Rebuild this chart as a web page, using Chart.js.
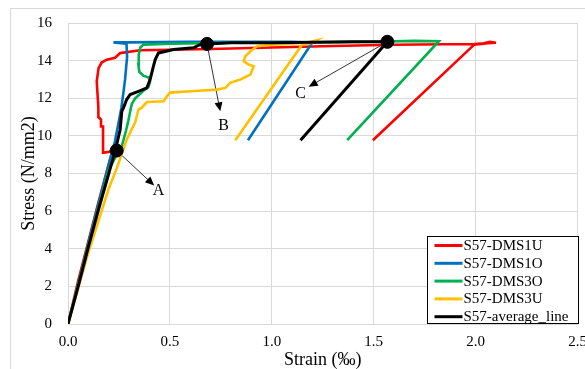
<!DOCTYPE html>
<html>
<head>
<meta charset="utf-8">
<script src="https://cdn.jsdelivr.net/npm/chart.js@4.4.1/dist/chart.umd.min.js"></script>
<style>
  html, body { margin: 0; padding: 0; background: #fff; }
</style>
</head>
<body>
<canvas id="myChart" width="585" height="369"></canvas>
<script>
// nomi e colori delle serie
const seriesNames = ['S57-DMS1U', 'S57-DMS1O', 'S57-DMS3O', 'S57-DMS3U', 'S57-average_line'];
const seriesColors = ['#ff0000', '#0070c0', '#00b050', '#ffc000', '#000000'];

// strain (‰) e stress (N/mm2)
const dms1uStrain = [0, 0.05, 0.10, 0.15, 0.20, 0.218, 0.20, 0.172, 0.172, 0.162, 0.162, 0.149, 0.149, 0.141, 0.150, 0.165, 0.190, 0.231, 0.256, 0.354, 0.50, 0.70, 1.00, 1.30, 1.60, 1.85, 1.993, 2.04, 2.07, 2.10, 2.06, 1.993, 1.496];
const dms1uStress = [0, 2.3, 4.4, 6.5, 8.5, 9.2, 9.15, 9.1, 10.5, 10.5, 10.87, 11.0, 11.5, 12.9, 13.6, 13.9, 14.05, 14.15, 14.4, 14.55, 14.58, 14.62, 14.7, 14.78, 14.84, 14.87, 14.88, 14.92, 15.0, 14.95, 14.93, 14.85, 9.77];

const dms1oStrain = [0, 0.05, 0.10, 0.15, 0.20, 0.23, 0.25, 0.262, 0.272, 0.28, 0.285, 0.29, 0.287, 0.223, 0.30, 0.60, 0.90, 1.10, 1.198, 0.883];
const dms1oStress = [0, 2.1, 4.3, 6.4, 8.5, 9.7, 10.8, 11.5, 12.3, 13.0, 13.6, 14.2, 14.9, 14.97, 14.97, 15.0, 15.0, 15.0, 14.95, 9.77];

const dms3oStrain = [0, 0.05, 0.10, 0.15, 0.20, 0.24, 0.264, 0.285, 0.296, 0.305, 0.313, 0.33, 0.37, 0.395, 0.403, 0.395, 0.37, 0.35, 0.345, 0.347, 0.355, 0.37, 0.50, 0.80, 1.20, 1.50, 1.70, 1.82, 1.37];
const dms3oStress = [0, 2.1, 4.2, 6.2, 8.2, 9.0, 9.45, 10.3, 10.8, 11.3, 11.7, 12.0, 12.4, 12.6, 12.9, 13.1, 13.2, 13.4, 13.8, 14.3, 14.7, 14.85, 14.9, 14.95, 14.97, 15.0, 15.05, 15.03, 9.77];

const dms3uStrain = [0, 0.10, 0.20, 0.24, 0.288, 0.31, 0.329, 0.346, 0.362, 0.387, 0.469, 0.485, 0.501, 0.60, 0.731, 0.772, 0.796, 0.846, 0.895, 0.911, 0.886, 0.862, 0.87, 0.895, 0.928, 1.00, 1.10, 1.18, 1.22, 1.20, 1.149, 0.821];
const dms3uStress = [0, 3.8, 7.2, 8.3, 9.8, 10.3, 10.7, 11.4, 11.5, 11.8, 11.84, 12.1, 12.3, 12.37, 12.46, 12.55, 12.82, 13.0, 13.26, 13.7, 13.79, 13.97, 14.23, 14.5, 14.77, 14.85, 14.9, 14.98, 15.08, 14.95, 14.86, 9.77];

const avgStrain = [0, 0.05, 0.10, 0.15, 0.20, 0.231, 0.256, 0.264, 0.272, 0.288, 0.305, 0.346, 0.387, 0.403, 0.419, 0.428, 0.444, 0.518, 0.616, 0.657, 0.682, 0.80, 1.00, 1.20, 1.40, 1.567, 1.141];
const avgStress = [0, 2.0, 4.1, 6.1, 8.0, 9.18, 10.34, 11.31, 11.49, 11.93, 12.2, 12.37, 12.55, 13.0, 13.7, 14.06, 14.41, 14.59, 14.68, 14.9, 14.89, 14.95, 14.95, 14.98, 15.0, 15.0, 9.77];

// punti A, B, C e frecce
const markLabels = ['A', 'B', 'C'];
const markStrain = [0.239, 0.682, 1.567];
const markStress = [9.22, 14.89, 15.0];
const arrowTipStrain = [0.423, 0.747, 1.181];
const arrowTipStress = [7.36, 11.31, 12.61];
const labelStrain = [0.444, 0.764, 1.141];
const labelStress = [7.07, 10.55, 12.25];

// etichette degli assi
const xTicks = [0, 0.5, 1.0, 1.5, 2.0, 2.5];
const yTicks = [0, 2, 4, 6, 8, 10, 12, 14, 16];

const pts = (xs, ys) => xs.map((x, i) => ({ x: x, y: ys[i] }));
const allStrain = [dms1uStrain, dms1oStrain, dms3oStrain, dms3uStrain, avgStrain];
const allStress = [dms1uStress, dms1oStress, dms3oStress, dms3uStress, avgStress];

const SERIF = "'Liberation Serif', 'Times New Roman', serif";
Chart.defaults.font.family = SERIF;
Chart.defaults.color = '#000';

const datasets = seriesNames.map((name, i) => ({
  label: name,
  data: pts(allStrain[i], allStress[i]),
  showLine: true,
  borderColor: seriesColors[i],
  backgroundColor: seriesColors[i],
  borderWidth: i === 4 ? 3 : 2.6,
  pointRadius: 0,
  tension: 0,
  order: 5 - i
}));
datasets.push({
  label: 'points',
  data: pts(markStrain, markStress),
  pointRadius: 6.5,
  pointBackgroundColor: '#000',
  pointBorderColor: '#000',
  showLine: false,
  order: 0
});

// cornice esterna e sfondo
const framePlugin = {
  id: 'frame',
  beforeDraw(chart) {
    const c = chart.ctx;
    c.save();
    c.fillStyle = '#fff';
    c.fillRect(0, 0, chart.width, chart.height);
    c.strokeStyle = '#d9d9d9';
    c.lineWidth = 1;
    c.strokeRect(10.5, 8.5, chart.width + 20, chart.height + 20);
    c.restore();
  }
};

// frecce con lettere
const arrowPlugin = {
  id: 'arrows',
  beforeDatasetsDraw(chart) {
    const c = chart.ctx, xs = chart.scales.x, ys = chart.scales.y;
    c.save();
    for (let i = 0; i < markLabels.length; i++) {
      const x0 = xs.getPixelForValue(markStrain[i]), y0 = ys.getPixelForValue(markStress[i]);
      const x1 = xs.getPixelForValue(arrowTipStrain[i]), y1 = ys.getPixelForValue(arrowTipStress[i]);
      const a = Math.atan2(y1 - y0, x1 - x0);
      c.strokeStyle = '#000';
      c.fillStyle = '#000';
      c.lineWidth = 0.8;
      c.beginPath();
      c.moveTo(x0, y0);
      c.lineTo(x1 - 7 * Math.cos(a), y1 - 7 * Math.sin(a));
      c.stroke();
      c.beginPath();
      c.moveTo(x1, y1);
      c.lineTo(x1 - 9 * Math.cos(a) + 4 * Math.sin(a), y1 - 9 * Math.sin(a) - 4 * Math.cos(a));
      c.lineTo(x1 - 9 * Math.cos(a) - 4 * Math.sin(a), y1 - 9 * Math.sin(a) + 4 * Math.cos(a));
      c.closePath();
      c.fill();
      c.font = '16px ' + SERIF;
      c.textAlign = 'center';
      c.textBaseline = 'middle';
      c.fillText(markLabels[i], xs.getPixelForValue(labelStrain[i]), ys.getPixelForValue(labelStress[i]));
    }
    c.restore();
  }
};

// legenda dentro l'area del grafico
const legendPlugin = {
  id: 'boxLegend',
  afterDraw(chart) {
    const c = chart.ctx, area = chart.chartArea;
    const w = 151, h = 87;
    const left = Math.round(area.right - w) + 0.5, top = Math.round(area.bottom - h) - 0.5;
    c.save();
    c.fillStyle = '#fff';
    c.fillRect(left, top, w, h);
    c.strokeStyle = '#000';
    c.lineWidth = 1;
    c.strokeRect(left, top, w, h);
    c.font = '15px ' + SERIF;
    c.textAlign = 'left';
    c.textBaseline = 'middle';
    seriesNames.forEach((name, i) => {
      const y = top + 9 + i * 17.8;
      c.strokeStyle = seriesColors[i];
      c.lineWidth = 3;
      c.beginPath();
      c.moveTo(left + 7, y);
      c.lineTo(left + 35, y);
      c.stroke();
      c.fillStyle = '#000';
      c.fillText(name, left + 36, y + 0.5);
    });
    c.restore();
  }
};

const ctx = document.getElementById('myChart').getContext('2d');
const myChart = new Chart(ctx, {
  type: 'scatter',
  data: { datasets: datasets },
  options: {
    responsive: false,
    animation: false,
    layout: { padding: { left: 10, top: 23, right: 7, bottom: 0 } },
    plugins: { legend: { display: false }, tooltip: { enabled: false } },
    scales: {
      x: {
        type: 'linear',
        min: 0,
        max: 2.5,
        afterBuildTicks: (s) => { s.ticks = xTicks.map(v => ({ value: v })); },
        afterFit: (s) => { s.height = 45; s.paddingLeft = 0; s.paddingRight = 0; },
        grid: { color: '#d9d9d9', drawTicks: false },
        border: { color: '#d9d9d9' },
        ticks: { padding: 9, font: { size: 15 }, maxRotation: 0, callback: (v) => Number(v).toFixed(1) },
        title: { display: true, text: 'Strain (‰)', font: { size: 18, lineHeight: 1 }, padding: { top: 0, bottom: 0 } }
      },
      y: {
        type: 'linear',
        min: 0,
        max: 16,
        afterBuildTicks: (s) => { s.ticks = yTicks.map(v => ({ value: v })); },
        afterFit: (s) => { s.width = 58; s.paddingTop = 0; s.paddingBottom = 0; },
        grid: { color: '#d9d9d9', drawTicks: false },
        border: { color: '#d9d9d9' },
        ticks: { padding: 16, font: { size: 15 } },
        title: { display: true, text: 'Stress (N/mm2)', font: { size: 18 }, padding: { top: 8, bottom: 0 } }
      }
    }
  },
  plugins: [framePlugin, arrowPlugin, legendPlugin]
});
</script>
</body>
</html>
